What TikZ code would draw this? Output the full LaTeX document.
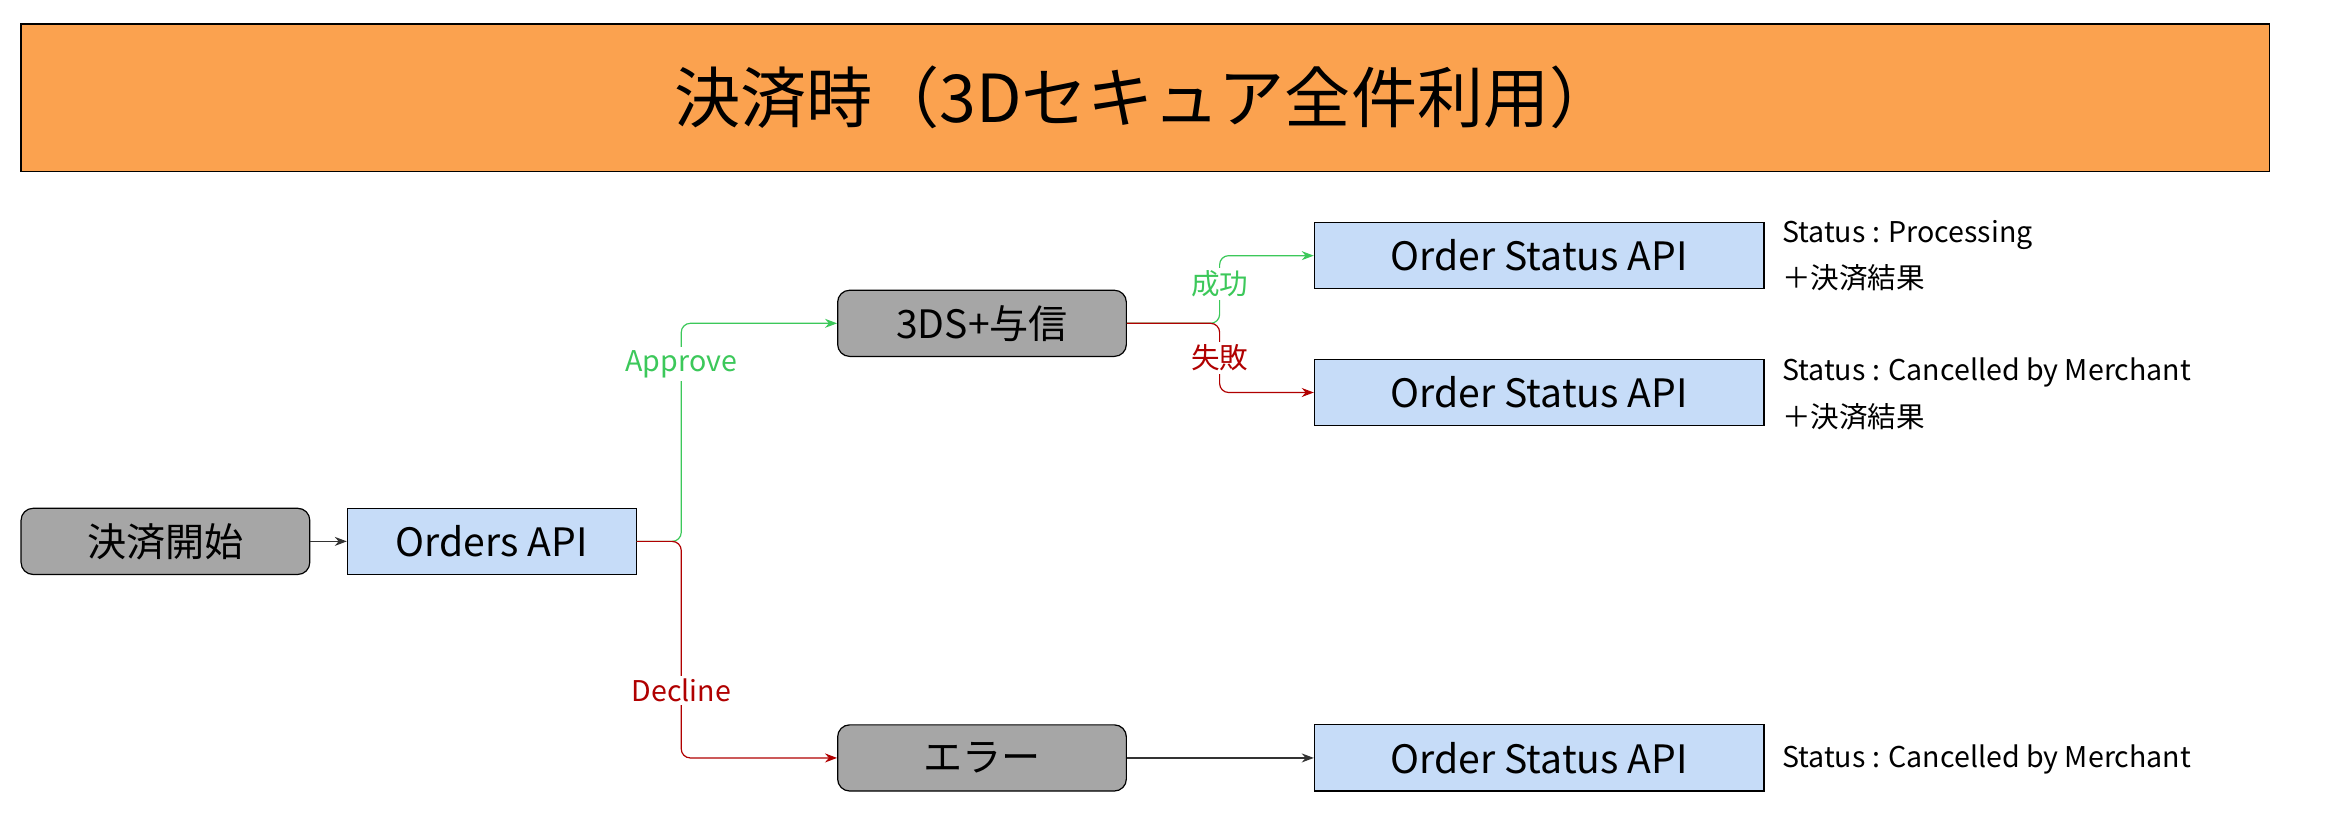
\documentclass[tikz,border=0pt]{standalone}
\usepackage{fontspec}
\setmainfont{Noto Sans CJK JP}
\usetikzlibrary{arrows.meta}
\definecolor{titleorange}{HTML}{FBA24F}
\definecolor{apiblue}{HTML}{C6DCF8}
\definecolor{stepgray}{HTML}{A6A6A6}
\definecolor{okgreen}{HTML}{3CC85A}
\definecolor{ngred}{HTML}{B00000}
\tikzset{
  flowstep/.style={draw,fill=stepgray,rounded corners=4pt,minimum width=96pt,minimum height=22pt,font=\fontsize{13}{15}\selectfont},
  api/.style={draw,fill=apiblue,minimum width=96pt,minimum height=22pt,font=\fontsize{13}{15}\selectfont},
  osa/.style={api,minimum width=149.5pt},
  status/.style={anchor=west,align=left,font=\fontsize{9.5}{15.5}\selectfont},
  arr/.style={-{Stealth[length=4pt]},rounded corners=3pt},
  lbl/.style={font=\fontsize{9.5}{11}\selectfont,fill=white,inner sep=1pt}
}
\begin{document}
\begin{tikzpicture}[x=0.5pt,y=-0.5pt]
  \useasboundingbox (0,0) rectangle (1560,540);
  \node[draw,fill=titleorange,minimum width=747.5pt,minimum height=49pt,font=\fontsize{22}{26}\selectfont] (title) at (761.5,65) {決済時（3Dセキュア全件利用）};
  \node[flowstep] (start) at (110,360) {決済開始};
  \node[api] (orders) at (327,360) {Orders API};
  \node[flowstep] (tds) at (653,215) {3DS+与信};
  \node[flowstep] (err) at (653,504) {エラー};
  \node[osa] (osa1) at (1023.5,170) {Order Status API};
  \node[osa] (osa2) at (1023.5,261) {Order Status API};
  \node[osa] (osa3) at (1023.5,504) {Order Status API};
  \node[status] (st1) at (1178,170) {Status : Processing\\＋決済結果};
  \node[status] (st2) at (1178,262) {Status : Cancelled by Merchant\\＋決済結果};
  \node[status] (st3) at (1178,505) {Status : Cancelled by Merchant};
  % connectors
  \draw[arr,black!80] (start) -- (orders);
  \draw[arr,okgreen] (orders.east) -| (453,288) |- (tds.west);
  \draw[arr,ngred] (orders.east) -| (453,430) |- (err.west);
  \node[lbl,text=okgreen] (appr) at (453,242) {Approve};
  \node[lbl,text=ngred] (decl) at (453,459) {Decline};
  \draw[arr,okgreen] (tds.east) -| (811,192) |- (osa1.west);
  \draw[arr,ngred] (tds.east) -| (811,238) |- (osa2.west);
  \node[lbl,text=okgreen] (succ) at (811,189) {成功};
  \node[lbl,text=ngred] (fail) at (811,238) {失敗};
  \draw[arr,black!80] (err) -- (osa3);
\end{tikzpicture}
\end{document}
